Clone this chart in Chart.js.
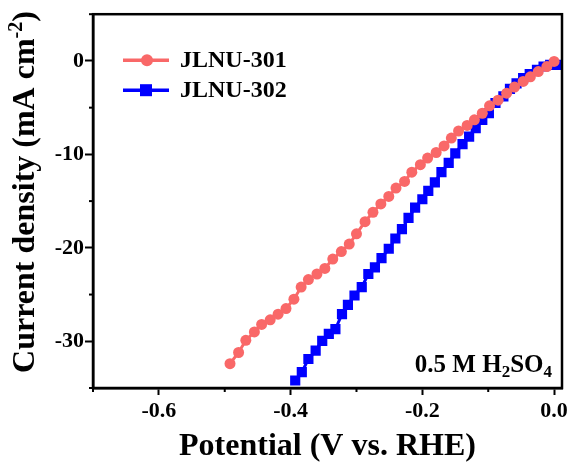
<!DOCTYPE html>
<html>
<head>
<meta charset="utf-8">
<script src="https://cdn.jsdelivr.net/npm/chart.js@4/dist/chart.umd.min.js"></script>
<style>
  html,body{margin:0;padding:0;background:#fff;}
  #wrap{width:572px;height:466px;position:relative;}
</style>
</head>
<body>
<div id="wrap"><canvas id="lsv"></canvas></div>
<script>
// ---- data ----
const seriesNames = ["JLNU-301", "JLNU-302"];
const potential301 = [-0.492,-0.479,-0.468,-0.455,-0.444,-0.431,-0.419,-0.407,-0.395,-0.384,
  -0.373,-0.360,-0.348,-0.336,-0.323,-0.311,-0.300,-0.287,-0.275,-0.263,
  -0.251,-0.240,-0.227,-0.216,-0.203,-0.192,-0.179,-0.167,-0.156,-0.145,
  -0.132,-0.121,-0.109,-0.098,-0.085,-0.072,-0.060,-0.047,-0.036,-0.024,-0.011,0];
const current301 = [-32.4,-31.2,-29.9,-29.0,-28.2,-27.7,-27.1,-26.5,-25.5,-24.2,
  -23.4,-22.8,-22.2,-21.2,-20.4,-19.6,-18.5,-17.2,-16.2,-15.3,
  -14.5,-13.6,-12.9,-11.9,-11.1,-10.4,-9.8,-9.1,-8.25,-7.5,
  -6.9,-6.3,-5.6,-4.8,-4.2,-3.45,-2.8,-2.2,-1.7,-1.14,-0.6,-0.05];
const potential302 = [-0.393,-0.383,-0.373,-0.362,-0.352,-0.342,-0.332,-0.322,-0.313,-0.303,
  -0.292,-0.282,-0.272,-0.262,-0.251,-0.241,-0.231,-0.221,-0.211,-0.200,
  -0.191,-0.181,-0.171,-0.160,-0.150,-0.139,-0.129,-0.119,-0.109,-0.099,
  -0.089,-0.077,-0.067,-0.057,-0.047,-0.037,-0.026,-0.016,-0.006,0.004];
const current302 = [-34.2,-33.3,-31.9,-31.0,-29.95,-29.2,-28.7,-27.1,-26.1,-25.1,
  -24.2,-22.8,-22.1,-21.1,-20.1,-19.0,-18.0,-16.8,-15.7,-14.8,
  -13.9,-13.0,-11.9,-10.9,-9.9,-8.9,-8.1,-7.2,-6.3,-5.6,
  -4.5,-3.8,-3.0,-2.4,-1.85,-1.4,-0.96,-0.6,-0.43,-0.43];

const xTicks = [-0.6,-0.4,-0.2,0.0];
const xMinor = [-0.7,-0.5,-0.3,-0.1];
const yTicks = [0,-10,-20,-30];
const yMinor = [5,-5,-15,-25,-35];

const SERIF = "'Liberation Serif','Times New Roman',serif";
const RED = "#f96868", BLUE = "#0000ff";

const pts = (xs, ys) => xs.map((x,i)=>({x, y: ys[i]}));

/* frame, minor ticks, legend, labels */
const extras = {
  id: "extras",
  afterDatasetsDraw(chart){
    const {ctx, chartArea:a, scales:{x, y}} = chart;
    ctx.save();
    ctx.strokeStyle = "#000";
    ctx.lineWidth = 2.5;
    ctx.strokeRect(a.left, a.top, a.right-a.left, a.bottom-a.top);
    ctx.lineWidth = 2;
    xMinor.forEach(v=>{
      const px = x.getPixelForValue(v);
      ctx.beginPath(); ctx.moveTo(px, a.bottom); ctx.lineTo(px, a.bottom+4); ctx.stroke();
    });
    yMinor.forEach(v=>{
      const py = y.getPixelForValue(v);
      ctx.beginPath(); ctx.moveTo(a.left, py); ctx.lineTo(a.left-4, py); ctx.stroke();
    });

    // legend
    chart.data.datasets.forEach((ds,i)=>{
      const ly = a.top + 46 + i*30, lx = a.left + 30;
      ctx.strokeStyle = ds.borderColor; ctx.lineWidth = 3.5;
      ctx.beginPath(); ctx.moveTo(lx, ly); ctx.lineTo(lx+46, ly); ctx.stroke();
      ctx.fillStyle = ds.borderColor;
      if (ds.pointStyle === "rect") ctx.fillRect(lx+23-6, ly-6, 12, 12);
      else { ctx.beginPath(); ctx.arc(lx+24, ly, 6, 0, Math.PI*2); ctx.fill(); }
      ctx.fillStyle = "#000";
      ctx.font = "bold 24px " + SERIF;
      ctx.textBaseline = "middle"; ctx.textAlign = "left";
      ctx.fillText(ds.label, lx+57, ly+1);
    });

    // electrolyte note with subscripts
    const parts = [["0.5 M H",0],["2",1],["SO",0],["4",1]];
    const big = "bold 25px " + SERIF, small = "bold 17px " + SERIF;
    let w = 0;
    parts.forEach(p=>{ ctx.font = p[1]?small:big; w += ctx.measureText(p[0]).width; });
    let tx = a.right - 10 - w; const base = a.bottom - 16;
    ctx.textBaseline = "alphabetic"; ctx.fillStyle = "#000";
    parts.forEach(p=>{
      ctx.font = p[1]?small:big;
      ctx.fillText(p[0], tx, base + (p[1]?5:0));
      tx += ctx.measureText(p[0]).width;
    });

    // y title with superscript
    const yparts = [["Current density (mA cm",0],["-2",1],[")",0]];
    const tf = "bold 32px " + SERIF, sf = "bold 20px " + SERIF;
    let tw = 0;
    yparts.forEach(p=>{ ctx.font = p[1]?sf:tf; tw += ctx.measureText(p[0]).width; });
    ctx.translate(34, 192);
    ctx.rotate(-Math.PI/2);
    let sx = -tw/2;
    yparts.forEach(p=>{
      ctx.font = p[1]?sf:tf;
      ctx.fillText(p[0], sx, p[1]?-12:0);
      sx += ctx.measureText(p[0]).width;
    });
    ctx.restore();
  }
};

new Chart(document.getElementById("lsv"), {
  type: "line",
  data: {
    datasets: [
      { label: seriesNames[0], data: pts(potential301, current301),
        borderColor: RED, backgroundColor: RED, borderWidth: 3,
        pointStyle: "circle", pointRadius: 5.5, pointBorderWidth: 0, pointBackgroundColor: RED },
      { label: seriesNames[1], data: pts(potential302, current302),
        borderColor: BLUE, backgroundColor: BLUE, borderWidth: 3,
        pointStyle: "rect", pointRadius: 7.2, pointBorderWidth: 0, pointBackgroundColor: BLUE }
    ]
  },
  options: {
    responsive: true, maintainAspectRatio: false, animation: false,
    layout: { padding: { top: 14, right: 10, left: 0, bottom: 0 } },
    plugins: { legend: { display: false }, tooltip: { enabled: false } },
    elements: { line: { tension: 0 } },
    scales: {
      x: {
        type: "linear", min: -0.7, max: 0.012,
        afterBuildTicks: s => { s.ticks = xTicks.map(v=>({value:v})); },
        afterFit: s => { s.height = 78; },
        grid: { drawOnChartArea: false, tickLength: 7, tickColor: "#000", tickWidth: 2 },
        border: { display: true, color: "#000", width: 2.5 },
        ticks: { color: "#000", padding: 3, font: { family: SERIF, size: 22, weight: "bold" },
                 callback: v => v.toFixed(1) },
        title: { display: true, text: "Potential (V vs. RHE)", color: "#000",
                 font: { family: SERIF, size: 32, weight: "bold" }, padding: { top: 0, bottom: 0 } }
      },
      y: {
        type: "linear", min: -35, max: 5,
        afterBuildTicks: s => { s.ticks = yTicks.map(v=>({value:v})); },
        afterFit: s => { s.width = 93; },
        grid: { drawOnChartArea: false, tickLength: 8, tickColor: "#000", tickWidth: 2 },
        border: { display: true, color: "#000", width: 2.5 },
        ticks: { color: "#000", padding: 1, font: { family: SERIF, size: 22, weight: "bold" },
                 callback: v => String(v) }
      }
    }
  },
  plugins: [extras]
});
</script>
</body>
</html>
